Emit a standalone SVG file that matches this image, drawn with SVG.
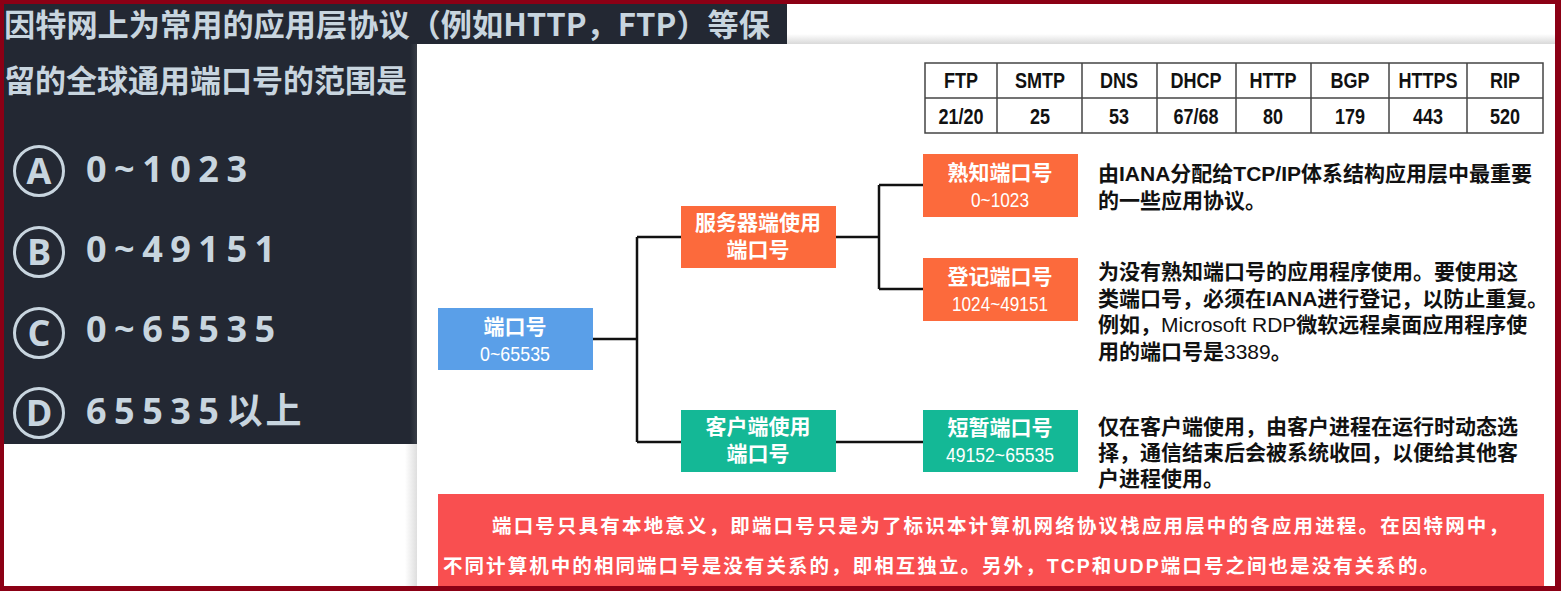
<svg xmlns="http://www.w3.org/2000/svg" width="1561" height="591" viewBox="0 0 1561 591">
<defs>
<linearGradient id="shTop" x1="0" y1="0" x2="0" y2="1">
<stop offset="0" stop-color="#ffffff"/><stop offset="1" stop-color="#d9d9d9"/>
</linearGradient>
<linearGradient id="shLeft" x1="0" y1="0" x2="1" y2="0">
<stop offset="0" stop-color="#ffffff"/><stop offset="1" stop-color="#dedede"/>
</linearGradient>
<linearGradient id="darkEdge" x1="0" y1="0" x2="1" y2="0">
<stop offset="0" stop-color="#232833"/><stop offset="1" stop-color="#383d46"/>
</linearGradient>
</defs>
<style>
.q{font-family:"Noto Sans CJK SC","Noto Sans",sans-serif;font-weight:700;fill:#c8d5df;font-size:31px}
.opt{font-family:"Open Sans","Noto Sans CJK SC",sans-serif;font-weight:700;fill:#c8d5df;font-size:36px;letter-spacing:7.5px}
.ol{font-family:"Open Sans",sans-serif;font-weight:700;fill:#c8d5df;font-size:36px;text-anchor:middle}
.oc{fill:none;stroke:#c8d5df;stroke-width:3}
.th{font-family:"Liberation Sans",sans-serif;font-weight:700;font-size:22px;fill:#111;text-anchor:middle}
.grid{fill:none;stroke:#444;stroke-width:1.5}
.nt{font-family:"Noto Sans CJK SC",sans-serif;font-weight:700;font-size:21px;fill:#fff;text-anchor:middle}
.nn{font-family:"Liberation Sans",sans-serif;font-weight:400;font-size:21px;fill:#fff;text-anchor:middle}
.conn{fill:none;stroke:#111;stroke-width:2.5}
.d{font-family:"Liberation Sans","Noto Sans CJK SC",sans-serif;font-weight:700;font-size:21px;fill:#111}
.r{font-family:"Liberation Sans","Noto Sans CJK SC",sans-serif;font-weight:700;font-size:19.5px;fill:#fff}
</style>
<rect x="0" y="0" width="1561" height="591" fill="#8b0015"/>
<rect x="4" y="4" width="1551" height="582" fill="#ffffff"/>
<rect x="787" y="34" width="768" height="10" fill="url(#shTop)"/>
<rect x="405" y="444" width="12" height="142" fill="url(#shLeft)"/>
<g id="question-panel">
<rect x="4" y="4" width="783" height="40" fill="#232833"/>
<rect x="4" y="44" width="413" height="400" fill="#232833"/>
<rect x="410" y="44" width="7" height="400" fill="url(#darkEdge)"/>
<text class="q" x="4" y="36" textLength="766" lengthAdjust="spacingAndGlyphs">因特网上为常用的应用层协议（例如HTTP，FTP）等保</text>
<text class="q" x="4" y="92">留的全球通用端口号的范围是</text>
<g id="opt-a"><circle class="oc" cx="39" cy="171" r="24.5"/><text class="ol" x="39" y="184">A</text><text class="opt" x="86" y="182">0~1023</text></g>
<g id="opt-b"><circle class="oc" cx="39" cy="252" r="24.5"/><text class="ol" x="39" y="265">B</text><text class="opt" x="86" y="262">0~49151</text></g>
<g id="opt-c"><circle class="oc" cx="39" cy="333" r="24.5"/><text class="ol" x="39" y="346">C</text><text class="opt" x="86" y="342">0~65535</text></g>
<g id="opt-d"><circle class="oc" cx="39" cy="413" r="24.5"/><text class="ol" x="39" y="426">D</text><text class="opt" x="86" y="424">65535<tspan letter-spacing="3">以上</tspan></text></g>
</g>
<g id="port-table">
<rect class="grid" x="925" y="63" width="618" height="70"/>
<line class="grid" x1="925" y1="98" x2="1543" y2="98"/>
<line class="grid" x1="997" y1="63" x2="997" y2="133"/>
<line class="grid" x1="1082" y1="63" x2="1082" y2="133"/>
<line class="grid" x1="1157" y1="63" x2="1157" y2="133"/>
<line class="grid" x1="1236" y1="63" x2="1236" y2="133"/>
<line class="grid" x1="1311" y1="63" x2="1311" y2="133"/>
<line class="grid" x1="1389" y1="63" x2="1389" y2="133"/>
<line class="grid" x1="1467" y1="63" x2="1467" y2="133"/>
<text class="th" x="961" y="88" textLength="34" lengthAdjust="spacingAndGlyphs">FTP</text>
<text class="th" x="1040" y="88" textLength="50" lengthAdjust="spacingAndGlyphs">SMTP</text>
<text class="th" x="1119" y="88" textLength="38" lengthAdjust="spacingAndGlyphs">DNS</text>
<text class="th" x="1196" y="88" textLength="51" lengthAdjust="spacingAndGlyphs">DHCP</text>
<text class="th" x="1273" y="88" textLength="47" lengthAdjust="spacingAndGlyphs">HTTP</text>
<text class="th" x="1350" y="88" textLength="39" lengthAdjust="spacingAndGlyphs">BGP</text>
<text class="th" x="1428" y="88" textLength="59" lengthAdjust="spacingAndGlyphs">HTTPS</text>
<text class="th" x="1505" y="88" textLength="30" lengthAdjust="spacingAndGlyphs">RIP</text>
<text class="th" x="961" y="124" textLength="45" lengthAdjust="spacingAndGlyphs">21/20</text>
<text class="th" x="1040" y="124" textLength="20" lengthAdjust="spacingAndGlyphs">25</text>
<text class="th" x="1119" y="124" textLength="20" lengthAdjust="spacingAndGlyphs">53</text>
<text class="th" x="1196" y="124" textLength="45" lengthAdjust="spacingAndGlyphs">67/68</text>
<text class="th" x="1273" y="124" textLength="20" lengthAdjust="spacingAndGlyphs">80</text>
<text class="th" x="1350" y="124" textLength="30" lengthAdjust="spacingAndGlyphs">179</text>
<text class="th" x="1428" y="124" textLength="30" lengthAdjust="spacingAndGlyphs">443</text>
<text class="th" x="1505" y="124" textLength="30" lengthAdjust="spacingAndGlyphs">520</text>
</g>
<g id="connectors">
<path class="conn" d="M593,339 H637 M637,237 V442 M637,237 H681 M637,442 H681"/>
<path class="conn" d="M836,237 H879 M879,185 V289 M879,185 H923 M879,289 H923"/>
<path class="conn" d="M836,442 H923"/>
</g>
<g id="node-port">
<rect x="438" y="308" width="155" height="62" fill="#5a9fe8"/>
<text class="nt" x="515" y="334">端口号</text>
<text class="nn" x="515" y="361" textLength="70" lengthAdjust="spacingAndGlyphs">0~65535</text>
</g>
<g id="node-server">
<rect x="681" y="206" width="155" height="62" fill="#fc6a3c"/>
<text class="nt" x="758" y="230">服务器端使用</text>
<text class="nt" x="758" y="257">端口号</text>
</g>
<g id="node-client">
<rect x="681" y="410" width="155" height="62" fill="#14b896"/>
<text class="nt" x="758" y="434">客户端使用</text>
<text class="nt" x="758" y="461">端口号</text>
</g>
<g id="node-wellknown">
<rect x="923" y="154" width="155" height="63" fill="#fc6a3c"/>
<text class="nt" x="1000" y="180">熟知端口号</text>
<text class="nn" x="1000" y="207" textLength="58" lengthAdjust="spacingAndGlyphs">0~1023</text>
</g>
<g id="node-registered">
<rect x="923" y="258" width="155" height="63" fill="#fc6a3c"/>
<text class="nt" x="1000" y="284">登记端口号</text>
<text class="nn" x="1000" y="311" textLength="96" lengthAdjust="spacingAndGlyphs">1024~49151</text>
</g>
<g id="node-ephemeral">
<rect x="923" y="410" width="155" height="62" fill="#14b896"/>
<text class="nt" x="1000" y="435">短暂端口号</text>
<text class="nn" x="1000" y="462" textLength="108" lengthAdjust="spacingAndGlyphs">49152~65535</text>
</g>
<g id="desc-wellknown">
<text class="d" x="1098" y="181">由IANA分配给TCP/IP体系结构应用层中最重要</text>
<text class="d" x="1098" y="208">的一些应用协议。</text>
</g>
<g id="desc-registered">
<text class="d" x="1098" y="279">为没有熟知端口号的应用程序使用。要使用这</text>
<text class="d" x="1098" y="306">类端口号，必须在IANA进行登记，以防止重复。</text>
<text class="d" x="1098" y="332">例如，<tspan font-weight="400">Microsoft RDP</tspan>微软远程桌面应用程序使</text>
<text class="d" x="1098" y="359">用的端口号是<tspan font-weight="400">3389</tspan>。</text>
</g>
<g id="desc-ephemeral">
<text class="d" x="1098" y="434">仅在客户端使用，由客户进程在运行时动态选</text>
<text class="d" x="1098" y="460">择，通信结束后会被系统收回，以便给其他客</text>
<text class="d" x="1098" y="486">户进程使用。</text>
</g>
<g id="note">
<rect x="438" y="494" width="1106" height="92" fill="#f94f50"/>
<text class="r" x="492" y="533" textLength="1016" lengthAdjust="spacing">端口号只具有本地意义，即端口号只是为了标识本计算机网络协议栈应用层中的各应用进程。在因特网中，</text>
<text class="r" x="443" y="573" textLength="996" lengthAdjust="spacing">不同计算机中的相同端口号是没有关系的，即相互独立。另外，TCP和UDP端口号之间也是没有关系的。</text>
</g>
</svg>
